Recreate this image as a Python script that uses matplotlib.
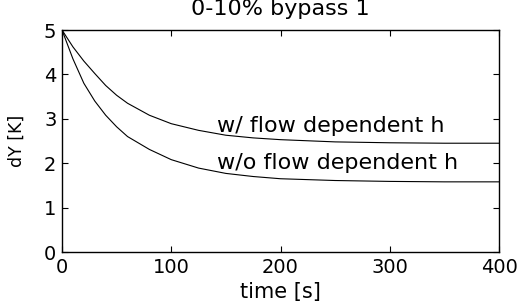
import matplotlib
matplotlib.use("Agg")
import matplotlib.pyplot as plt

plt.rcParams['font.family'] = ['DejaVu Sans']

time = [0, 10, 20, 30, 40, 50, 60, 80, 100, 125, 150, 175, 200, 250, 300, 350, 400]
dy_flow = [5.00, 4.62, 4.30, 4.02, 3.75, 3.53, 3.35, 3.08, 2.89, 2.74, 2.63, 2.57,
           2.53, 2.48, 2.46, 2.45, 2.45]
dy_noflow = [5.00, 4.35, 3.80, 3.40, 3.08, 2.82, 2.60, 2.31, 2.08, 1.89, 1.77, 1.70,
             1.65, 1.61, 1.59, 1.58, 1.58]

xticks = [0, 100, 200, 300, 400]
yticks = [0, 1, 2, 3, 4, 5]

fig = plt.figure(figsize=(5.27, 3.03), dpi=100)
ax = fig.add_axes([62 / 527, 51 / 303, 437 / 527, 222 / 303])

ax.plot(time, dy_flow, color='black', lw=0.8)
ax.plot(time, dy_noflow, color='black', lw=0.8)

ax.text(141.6, 2.71, 'w/ flow dependent h', fontsize=16, va='baseline')
ax.text(141.6, 1.87, 'w/o flow dependent h', fontsize=16, va='baseline')

ax.set_xlim(0, 400)
ax.set_ylim(0, 5)
ax.set_xticks(xticks)
ax.set_yticks(yticks)
ax.tick_params(direction='in', top=True, right=True, length=4, width=0.8,
               labelsize=14, pad=4)
for s in ax.spines.values():
    s.set_linewidth(1.0)

# labels placed in figure pixels, like the reference
fig.text(280.5 / 527, 1 - 298 / 303, 'time [s]', fontsize=15,
         ha='center', va='baseline')
fig.text(17 / 527, 1 - 141 / 303, 'dY [K]', fontsize=12.5, rotation=90,
         ha='center', va='center')
# title sits partly above the top edge in the reference
fig.text(280.5 / 527, 1 - 15 / 303, '0-10% bypass 1', fontsize=16,
         ha='center', va='baseline')

fig.savefig('out.png', dpi=100)
